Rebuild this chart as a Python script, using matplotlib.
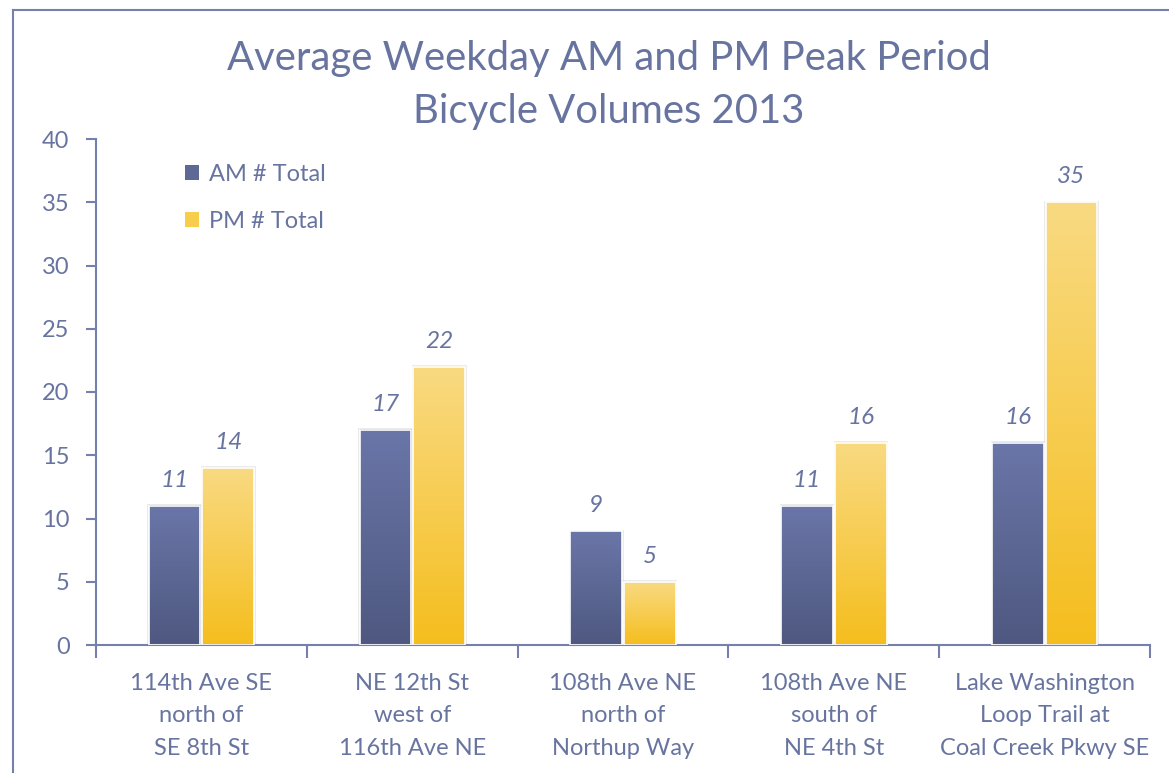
import numpy as np
import matplotlib
matplotlib.use("Agg")
from matplotlib import pyplot as plt
from matplotlib.patches import Rectangle
from matplotlib.lines import Line2D
from matplotlib.colors import LinearSegmentedColormap

# data
locations = ["114th Ave SE\nnorth of\nSE 8th St",
             "NE 12th St\nwest of\n116th Ave NE",
             "108th Ave NE\nnorth of\nNorthup Way",
             "108th Ave NE\nsouth of\nNE 4th St",
             "Lake Washington\nLoop Trail at\nCoal Creek Pkwy SE"]
am_total = [11, 17, 9, 11, 16]
pm_total = [14, 22, 5, 16, 35]
series_names = ["AM # Total", "PM # Total"]

text_color = "#6874A0"
axis_color = "#7580AC"
font = "Lato"

am_cmap = LinearSegmentedColormap.from_list("am", ["#4E5880", "#6A76A8"])
pm_cmap = LinearSegmentedColormap.from_list("pm", ["#F5BE1E", "#F9DA82"])

plt.rcParams['font.family'] = [font, 'DejaVu Sans']

fig = plt.figure(figsize=(11.69, 7.73), dpi=100)
ax = fig.add_axes([96 / 1169, 1 - 645 / 773, (1150 - 96) / 1169, (645 - 139) / 773])

# frame around the chart (top and left edges visible)
fig.add_artist(Line2D([13 / 1169, 13 / 1169], [0, 1 - 10 / 773], transform=fig.transFigure,
                      color=axis_color, lw=1.5))
fig.add_artist(Line2D([13 / 1169, 1], [1 - 10 / 773, 1 - 10 / 773], transform=fig.transFigure,
                      color=axis_color, lw=1.5))

x = np.arange(len(locations))
width = 0.245
gap = 0.005
grad = np.linspace(0, 1, 256).reshape(-1, 1)

def gradient_bars(xs, values, cmap):
    for xi, v in zip(xs, values):
        # soft shadow
        ax.add_patch(Rectangle((xi - width / 2 - 0.006, 0), width + 0.014, v + 0.12,
                               facecolor="#000000", alpha=0.08, edgecolor="none", zorder=1))
        ax.imshow(grad, cmap=cmap, aspect="auto", origin="lower",
                  extent=(xi - width / 2, xi + width / 2, 0, v), zorder=2)
        ax.add_patch(Rectangle((xi - width / 2, 0), width, v, facecolor="none",
                               edgecolor="white", lw=1.2, zorder=3))
        ax.text(xi, v + 2.0, str(v), ha="center", va="center", fontsize=17.5,
                style="italic", color=text_color, zorder=4)

gradient_bars(x - width / 2 - gap, am_total, am_cmap)
gradient_bars(x + width / 2 + gap, pm_total, pm_cmap)

ax.set_xlim(-0.5, len(locations) - 0.5)
ax.set_ylim(0, 40)
ax.set_yticks(range(0, 41, 5))

for side in ["top", "right"]:
    ax.spines[side].set_visible(False)
for side in ["left", "bottom"]:
    ax.spines[side].set_color(axis_color)
    ax.spines[side].set_linewidth(1.5)

ax.tick_params(axis="y", colors=axis_color, labelcolor=text_color, labelsize=17,
               length=7, width=1.5, pad=12)
ax.set_xticks(x)
ax.set_xticklabels(locations, fontsize=17, color=text_color, linespacing=1.68)
ax.tick_params(axis="x", which="major", length=0, pad=20)
ax.set_xticks(np.arange(-0.5, len(locations)), minor=True)
ax.tick_params(axis="x", which="minor", length=9, width=1.5, colors=axis_color)

# legend
handles = [Rectangle((0, 0), 1, 1, facecolor="#5D6894", edgecolor="none"),
           Rectangle((0, 0), 1, 1, facecolor="#F8CD4C", edgecolor="none")]
leg = ax.legend(handles, series_names, loc="upper left", bbox_to_anchor=(0.064, 0.993),
                frameon=False, fontsize=17, handlelength=0.6, handleheight=0.6,
                handletextpad=0.45, labelspacing=1.1)
for t in leg.get_texts():
    t.set_color(text_color)

fig.text(0.521, 1 - 85 / 773, "Average Weekday AM and PM Peak Period\nBicycle Volumes 2013",
         ha="center", va="center", fontsize=28.8, color=text_color, linespacing=1.55)

fig.savefig("out.png", dpi=100)
